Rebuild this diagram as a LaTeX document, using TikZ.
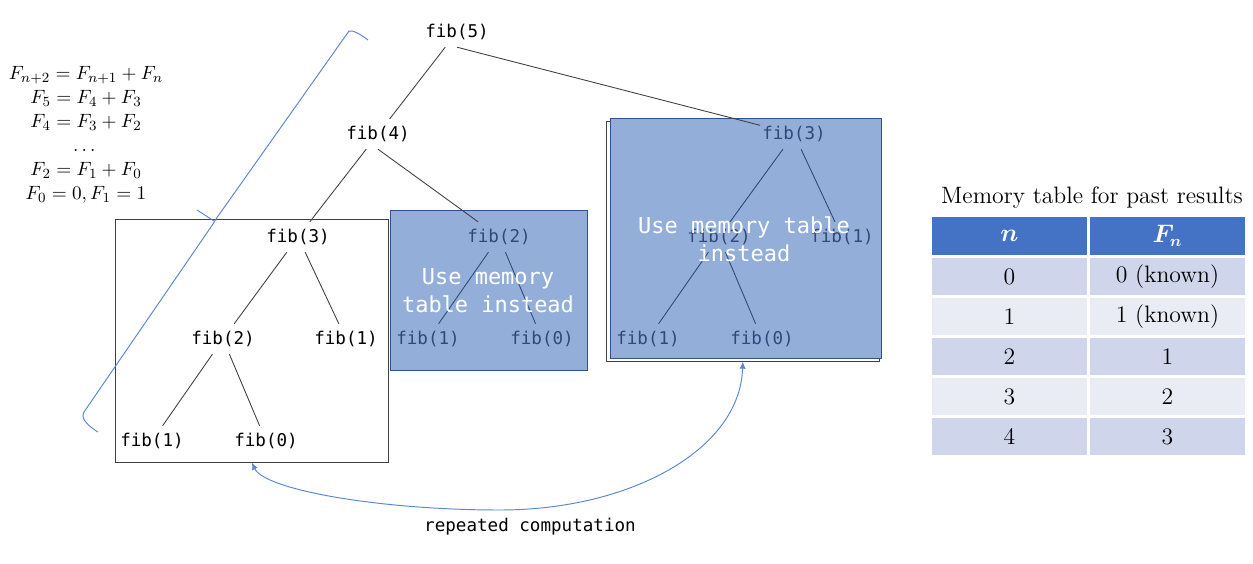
\documentclass[tikz,border=0pt]{standalone}
\usepackage{amsmath,bm}
\usepackage{fontspec}
\setmonofont{DejaVu Sans Mono}
\usetikzlibrary{arrows.meta}
\definecolor{memblue}{HTML}{4472C4}
\definecolor{linkblue}{HTML}{5B87D0}
\definecolor{boxfill}{HTML}{94AEDA}
\definecolor{boxedge}{HTML}{2F528F}
\definecolor{boxtext}{HTML}{2E4A7A}
\definecolor{rowA}{HTML}{CFD5EA}
\definecolor{rowB}{HTML}{E9EBF5}
\tikzset{
  call/.style={font=\fontsize{10}{12}\selectfont\ttfamily, inner xsep=1pt, inner ysep=4pt},
  memocall/.style={call, text=boxtext},
  edge/.style={draw=black!75, line width=0.5pt},
  memoedge/.style={draw=boxtext, line width=0.5pt},
  plainbox/.style={draw=black!75, fill=white, anchor=north west, inner sep=0pt},
  memobox/.style={draw=boxedge, fill=boxfill, line width=0.8pt, anchor=north west, inner sep=0pt},
  note/.style={text=white, font=\fontsize{12.5}{16}\selectfont\ttfamily, align=center},
  bracket/.style={linkblue, line width=0.55pt, line join=round},
  cell/.style={minimum width=3.1cm, minimum height=0.74cm, inner sep=0pt, font=\fontsize{13.5}{16}\selectfont},
  arrow/.style={linkblue, line width=0.55pt, {Latex[length=4pt,width=3.5pt]}-{Latex[length=4pt,width=3.5pt]}}
}
\begin{document}
\begin{tikzpicture}[x=0.02cm, y=-0.02cm]
		\useasboundingbox (0,0) rectangle (1253,564);
		% recurrence
		\node[align=center, font=\fontsize{11}{13.6}\selectfont] (rec) at (86,135)
		  {$F_{n+2}=F_{n+1}+F_n$\\ $F_5=F_4+F_3$\\ $F_4=F_3+F_2$\\ $\dots$\\ $F_2=F_1+F_0$\\ $F_0=0,F_1=1$};
		% boxes
		\node[plainbox, minimum width=5.46cm, minimum height=4.86cm] (box1) at (115,219) {};
		\node[memobox, minimum width=3.94cm, minimum height=3.2cm] (box2) at (390,210) {};
		\node[plainbox, minimum width=5.46cm, minimum height=4.8cm] (shadow3) at (606,121) {};
		\node[memobox, minimum width=5.42cm, minimum height=4.8cm] (box3) at (610,118) {};
		% brace over the left subtree
		\draw[bracket] (368,40) .. controls (360,34) and (353,30) .. (349,31) -- (216,219) -- (213,224)
		  -- (84,412) .. controls (80,418) and (88,426) .. (98,432);
		\draw[bracket] (197,210) -- (214,221);
		% call tree
		\node[call] (f5) at (457,32) {fib(5)};
		\node[call] (f4) at (378,134) {fib(4)};
		\node[call] (f3a) at (298,237) {fib(3)};
		\node[call] (f2a) at (223,339) {fib(2)};
		\node[call] (f1a) at (346,339) {fib(1)};
		\node[call] (f1b) at (152,441) {fib(1)};
		\node[call] (f0a) at (266,441) {fib(0)};
		\node[memocall] (f2b) at (499,237) {fib(2)};
		\node[memocall] (f1c) at (428,339) {fib(1)};
		\node[memocall] (f0b) at (542,339) {fib(0)};
		\node[memocall] (f3b) at (794,134) {fib(3)};
		\node[memocall] (f2c) at (719,237) {fib(2)};
		\node[memocall] (f1d) at (842,237) {fib(1)};
		\node[memocall] (f1e) at (648,339) {fib(1)};
		\node[memocall] (f0c) at (762,339) {fib(0)};
		\draw[edge] (f5) -- (f4);
		\draw[edge] (f5.south) -- (f3b);
		\draw[edge] (f4) -- (f3a);
		\draw[edge] (f4.south) -- (f2b);
		\draw[edge] (f3a) -- (f2a);
		\draw[edge] (f3a) -- (f1a);
		\draw[edge] (f2a) -- (f1b);
		\draw[edge] (f2a) -- (f0a);
		\draw[memoedge] (f2b) -- (f1c);
		\draw[memoedge] (f2b) -- (f0b);
		\draw[memoedge] (f3b) -- (f2c);
		\draw[memoedge] (f3b) -- (f1d);
		\draw[memoedge] (f2c) -- (f1e);
		\draw[memoedge] (f2c) -- (f0c);
		\node[note] (use2) at (488,291) {Use memory\\table instead};
		\node[note] (use3) at (744,239) {Use memory table\\instead};
		% repeated work
		\draw[arrow] (shadow3.south) .. controls (740,450) and (630,510) .. (500,510)
		  .. controls (380,510) and (265,490) .. (box1.south);
		\node[call] (rep) at (530,527) {repeated computation};
		% memory table
		\node[font=\fontsize{13.5}{16}\selectfont] (title) at (1092,198) {Memory table for past results};
		\node[cell, fill=memblue, text=white, minimum height=0.76cm] (hn) at (1009.5,236) {$\bm{n}$};
		\node[cell, fill=memblue, text=white, minimum height=0.76cm] (hF) at (1167.5,236) {$\bm{F_n}$};
		\foreach \n/\f/\c [count=\r from 0] in {0/0 (known)/rowA, 1/1 (known)/rowB, 2/1/rowA, 3/2/rowB, 4/3/rowA} {
		  \node[cell, fill=\c] (n\n) at (1009.5,{276.5+40*\r}) {\n};
		  \node[cell, fill=\c] (F\n) at (1167.5,{276.5+40*\r}) {\f};
		}
	\end{tikzpicture}
\end{document}
